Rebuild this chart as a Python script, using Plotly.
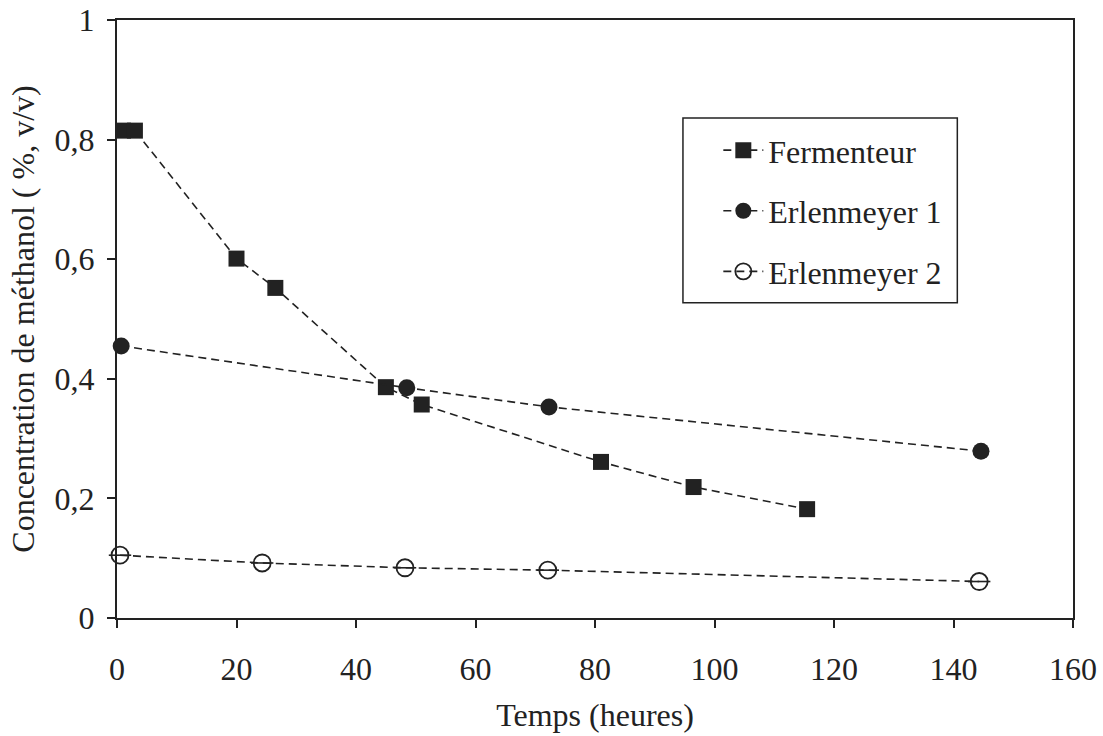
import plotly.graph_objects as go

# Data
ferm_x = [1, 3, 20, 26.5, 45, 51, 81, 96.5, 115.5]
ferm_y = [0.815, 0.815, 0.601, 0.552, 0.386, 0.357, 0.261, 0.219, 0.182]

erl1_x = [0.7, 48.5, 72.3, 144.6]
erl1_y = [0.455, 0.385, 0.353, 0.279]

erl2_x = [0.5, 24.3, 48.2, 72.1, 144.3]
erl2_y = [0.105, 0.092, 0.084, 0.080, 0.061]

x_ticks = [0, 20, 40, 60, 80, 100, 120, 140, 160]
y_ticks = [0, 0.2, 0.4, 0.6, 0.8, 1]

ink = "#222222"
font_family = "Liberation Serif"
fs = 32
line_style = dict(color=ink, width=1.6, dash="8px,5px")

fig = go.Figure()
fig.add_trace(go.Scatter(
    x=ferm_x, y=ferm_y, mode="lines+markers", name="Fermenteur",
    line=line_style, legendgroup="a",
    marker=dict(symbol="square", size=16, color=ink, line=dict(width=0)),
    cliponaxis=False))
fig.add_trace(go.Scatter(
    x=erl1_x, y=erl1_y, mode="lines+markers", name="Erlenmeyer 1",
    line=line_style, legendgroup="b",
    marker=dict(symbol="circle", size=17, color=ink, line=dict(width=0)),
    cliponaxis=False))
fig.add_trace(go.Scatter(
    x=erl2_x, y=erl2_y, mode="lines+markers", name="Erlenmeyer 2",
    line=line_style, legendgroup="c",
    marker=dict(symbol="circle-open", size=17, color=ink, line=dict(width=1.8, color=ink)),
    cliponaxis=False))
fig.add_trace(go.Scatter(
    x=erl2_x, y=erl2_y, mode="markers", showlegend=False, hoverinfo="skip",
    marker=dict(symbol="line-ew", size=16, color=ink, line=dict(width=1.6, color=ink)),
    cliponaxis=False))

axis_common = dict(
    showline=True, linecolor=ink, linewidth=2, mirror=True,
    ticks="outside", ticklen=8, tickwidth=1.5, tickcolor=ink,
    showgrid=False, zeroline=False, automargin=False,
    tickfont=dict(family=font_family, size=fs, color=ink),
)

fig.update_layout(
    width=1103, height=736,
    paper_bgcolor="white", plot_bgcolor="white",
    separators=", ",
    margin=dict(l=117, r=30, t=20, b=118),
    font=dict(family=font_family, color=ink),
    xaxis=dict(range=[0, 160], tickvals=x_ticks, ticklabelstandoff=14,
               title=dict(text="Temps (heures)", font=dict(family=font_family, size=fs, color=ink), standoff=17),
               **axis_common),
    yaxis=dict(range=[0, 1], tickvals=y_ticks, ticklabelstandoff=6,
               title=dict(text="Concentration de méthanol ( %, v/v)", font=dict(family=font_family, size=fs, color=ink), standoff=10),
               **axis_common),
    legend=dict(x=0.629, y=0.828, xanchor="left", yanchor="top",
                bgcolor="rgba(0,0,0,0)", borderwidth=0,
                font=dict(family=font_family, size=fs, color=ink),
                traceorder="grouped", tracegroupgap=16, itemwidth=40),
    showlegend=True,
    shapes=[dict(type="rect", xref="paper", yref="paper",
                 x0=0.592, x1=0.879, y0=0.527, y1=0.836,
                 line=dict(color=ink, width=1.5), fillcolor="rgba(0,0,0,0)", layer="below")],
)

fig.write_html("out.html")
